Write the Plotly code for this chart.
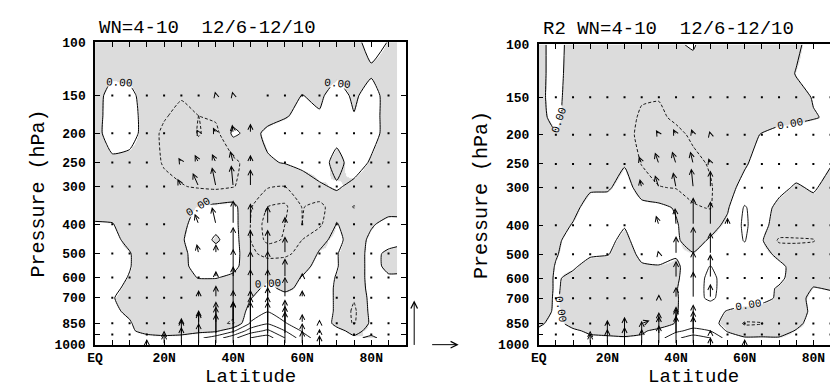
import numpy as np
import plotly.graph_objects as go

W, H = 838, 387

# ---------------- data ----------------
LAT_L = [0, 5, 10, 15, 20, 25, 30, 35, 40, 45, 50, 55, 60, 65, 70, 75, 80, 85, 87.5]
LAT_R = [0, 5, 10, 15, 20, 25, 30, 35, 40, 45, 50, 55, 60, 65, 70, 75, 80, 85]
LEV = [100, 125, 150, 175, 200, 250, 300, 350, 400, 450, 500, 550, 600, 650, 700, 775, 850, 900, 950]

# EP-flux divergence, panel 1 (rows follow LEV)
DIV_L = [
    [-0.3, -0.5, -0.5, -0.5, -0.5, -0.5, -0.5, -0.5, -0.5, -0.5, -0.5, -0.5, -0.5, -0.5, -0.5, -0.4, 0.5, -0.05, -0.4],
    [-0.5, -0.3, -0.4, -0.5, -0.5, -0.5, -0.5, -0.5, -0.5, -0.5, -0.5, -0.5, -0.5, -0.5, -0.3, -0.5, -0.2, -0.4, -0.5],
    [-0.5, 0.5, 0.3, -0.5, -0.6, -0.9, -0.6, -0.6, -0.5, -0.5, -0.5, -0.3, 0.02, -0.2, 0.5, -0.2, 0.5, -0.5, -0.5],
    [-0.5, 0.6, 0.5, -0.5, -0.9, -1.3, -1.0, -0.8, -0.4, -0.5, -0.3, -0.1, 0.3, 0.1, 0.6, 0.05, 0.5, -0.5, -0.5],
    [-0.5, 0.7, 0.5, -0.5, -1.2, -1.4, -0.95, -1.3, 0.2, -0.3, 0.2, 0.5, 0.6, 0.6, 0.3, 0.5, 0.3, -0.3, -0.5],
    [-0.5, -0.3, -0.4, -0.5, -1.1, -1.3, -1.4, -1.5, -1.3, -0.5, -0.1, 0.05, 0.4, 0.4, -0.3, 0.4, -0.1, -0.4, -0.5],
    [-0.5, -0.5, -0.5, -0.5, -0.7, -0.95, -1.1, -1.2, -1.05, -0.6, -0.9, -1.0, -0.8, -0.1, 0.1, -0.2, -0.4, -0.5, -0.5],
    [-0.5, -0.5, -0.5, -0.5, -0.5, -0.4, 0.1, 0.2, 0.3, -0.9, -2.0, -2.2, -0.95, -1.3, -0.4, -1.05, -0.4, -0.4, -0.4],
    [0.1, 0.05, -0.5, -0.5, -0.5, -0.3, 0.5, 0.3, 0.4, -1.0, -2.5, -2.0, -1.0, -1.2, 0.05, -0.5, -0.1, 0.3, 0.3],
    [0.3, 0.2, -0.2, -0.5, -0.5, -0.1, 0.5, -0.15, 0.5, -1.0, -2.3, -1.9, -1.0, -0.3, 0.3, -0.5, 0.2, 0.4, 0.3],
    [0.3, 0.1, 0.05, -0.5, -0.5, -0.3, 0.5, 0.4, 0.5, -0.8, -1.3, -1.2, -0.7, 0.1, 0.05, -0.5, 0.3, -0.2, -0.3],
    [0.4, 0.3, 0.05, -0.5, -0.5, -0.3, 0.4, 0.4, 0.3, -0.6, -0.5, -0.5, -0.3, 0.3, 0.05, -0.5, 0.3, -0.2, -0.2],
    [0.4, 0.3, -0.05, -0.5, -0.5, -0.4, 0.05, 0.05, -0.2, -0.5, -0.1, -0.4, 0.05, 0.4, -0.05, -0.5, 0.3, 0.1, 0.1],
    [0.3, 0.2, -0.2, -0.5, -0.5, -0.5, -0.5, -0.5, -0.5, -0.3, 0.2, -0.2, 0.2, 0.4, -0.1, -0.6, 0.3, 0.2, 0.2],
    [0.3, 0.05, -0.3, -0.5, -0.5, -0.5, -0.5, -0.5, -0.6, -0.05, 0.5, 0.3, 0.2, 0.4, -0.1, -0.9, 0.3, 0.2, 0.2],
    [0.2, 0.1, -0.1, -0.5, -0.5, -0.5, -0.5, -0.6, -0.8, 0.3, 0.95, 0.6, 0.3, 0.4, -0.1, -1.2, 0.3, 0.2, 0.2],
    [0.2, 0.1, 0.05, -0.3, -0.5, -0.5, -0.5, -0.8, -1.1, 1.1, 1.9, 1.05, 0.6, 0.5, -0.2, -1.1, 0.2, 0.3, 0.3],
    [0.2, 0.2, 0.1, -0.2, -0.4, -0.4, -0.3, -0.2, 0.8, 2.5, 3.2, 2.0, 0.9, 0.5, 0.2, -0.2, 0.2, 0.3, 0.3],
    [0.2, 0.2, 0.2, 0.2, 0.2, 0.3, 0.8, 1.5, 2.7, 4.0, 4.5, 3.0, 1.5, 0.5, 0.3, 0.1, -0.1, 0.2, 0.2],
]

# EP-flux divergence, panel 2 (R2)
DIV_R = [
    [-0.3, 0.4, -0.4, -0.5, -0.5, -0.5, -0.5, -0.5, -0.1, 0.1, -0.5, -0.5, -0.5, -0.5, -0.5, -0.2, 0.4, 0.4],
    [-0.3, 0.4, -0.5, -0.5, -0.5, -0.5, -0.5, -0.5, -0.5, -0.4, -0.5, -0.5, -0.5, -0.5, -0.5, 0.05, 0.4, 0.4],
    [-0.2, 0.3, -0.5, -0.5, -0.5, -0.5, -0.9, -0.95, -0.6, -0.5, -0.5, -0.5, -0.5, -0.5, -0.5, -0.3, 0.05, 0.3],
    [-0.2, 0.2, -0.5, -0.5, -0.5, -0.6, -1.15, -1.2, -0.8, -0.5, -0.5, -0.5, -0.5, -0.4, -0.3, -0.2, -0.05, 0.1],
    [-0.5, -0.05, -0.5, -0.5, -0.5, -0.6, -1.3, -1.4, -1.3, -0.8, -0.5, -0.5, -0.3, 0.05, 0.3, 0.4, 0.4, 0.3],
    [-0.5, -0.5, -0.5, -0.5, -0.5, -0.05, -1.05, -1.5, -1.5, -1.3, -0.9, -0.5, -0.1, 0.4, 0.4, 0.4, 0.3, 0.05],
    [-0.5, -0.5, -0.5, -0.1, -0.1, 0.3, -0.3, -0.95, -1.05, -1.3, -1.1, -0.3, 0.3, 0.4, 0.2, -0.1, 0.1, -0.3],
    [-0.5, -0.5, -0.2, 0.3, 0.4, 0.2, 0.2, 0.3, -0.1, -0.9, -1.05, -0.1, 1.1, 0.3, -0.2, -0.4, -0.3, -0.3],
    [-0.5, -0.3, 0.05, 0.4, 0.4, 0.05, 0.4, 0.4, 0.1, -0.6, -0.3, 0.2, 1.2, 0.2, -0.3, -0.5, -0.5, -0.4],
    [-0.5, -0.2, 0.4, 0.4, 0.2, -0.2, 0.4, 0.5, 0.1, -0.3, 0.1, 0.5, 1.05, 0.1, -1.15, -1.1, -1.05, -0.5],
    [-0.5, -0.05, 0.3, 0.1, 0.05, -0.4, 0.2, 0.3, 0.05, 0.05, 0.4, 0.5, 0.6, 0.3, -0.2, -0.6, -0.5, -0.5],
    [-0.5, 0.05, 0.1, -0.3, -0.5, -0.5, -0.1, -0.05, -0.1, 0.3, 1.05, 0.3, 0.5, 0.3, 0.2, -0.3, -0.5, -0.5],
    [-0.5, 0.1, -0.2, -0.5, -0.5, -0.5, -0.5, -0.5, -0.1, 0.4, 1.3, 0.5, 0.5, 0.4, 0.2, -0.4, -0.3, -0.3],
    [-0.5, 0.1, -0.3, -0.5, -0.5, -0.5, -0.5, -0.5, -0.05, 0.5, 1.3, 0.5, 0.4, 0.3, -0.1, -0.5, 0.05, -0.05],
    [-0.4, 0.1, -0.4, -0.5, -0.5, -0.5, -0.5, -0.5, -0.1, 0.6, 1.2, 0.5, 0.4, 0.2, -0.1, -0.4, 0.3, 0.2],
    [-0.3, 0.1, -0.3, -0.5, -0.5, -0.5, -0.5, -0.5, -0.05, 0.4, 0.3, -0.05, -0.3, -0.3, -0.3, -0.2, 0.1, 0.3],
    [-0.1, 0.2, -0.2, -0.4, -0.4, -0.4, -0.4, -0.4, 0.05, 0.5, 0.3, -0.3, -1.1, -1.05, -0.4, -0.2, 0.3, 0.3],
    [0.1, 0.3, 0.1, -0.1, -0.2, -0.2, -0.1, 0.2, 0.8, 1.3, 1.0, -0.1, -0.6, -0.5, -0.3, 0.05, 0.3, 0.3],
    [0.2, 0.3, 0.2, 0.1, 0.1, 0.05, 0.1, 0.6, 1.8, 2.5, 2.0, 0.6, 0.1, 0.1, 0.05, 0.2, 0.3, 0.3],
]

# EP-flux vectors (same units as the reference arrows REF_FY / REF_FZ)
VEC_LAT = [5, 10, 15, 20, 25, 30, 35, 40, 45, 50, 55, 60, 65, 70, 75, 80, 85]
VEC_LEV = [1000, 925, 850, 700, 600, 500, 400, 300, 250, 200, 150]
REF_FY = 28
REF_FZ = 46

FZ_L = [
    [0, 0, 6, 12, 28, 36, 40, 45, 45, 45, 35, 15, 10, 2, 0, 0, 0],
    [1, 1, 2, 4, 8, 12, 22, 35, 40, 40, 30, 12, 6, 1, 0, 0, 0],
    [1, 1, 1, 2, 4, 12, 23, 35, 35, 38, 25, 10, 4, 1, 0, 0, 0],
    [0, 0, 1, 1, 2, 8, 13, 33, 30, 30, 22, 8, 3, 1, 0, 0, 0],
    [0, 0, 0, 1, 1, 1, 7, 30, 28, 28, 20, 5, 2, 1, 0, 0, 0],
    [0, 0, 0, 1, 1, 10, 10, 28, 25, 25, 18, 3, 1, 0, 0, 0, 0],
    [0, 0, 0, 1, 3, 11, 18, 25, 22, 19, 8, 2, 0, 0, 0, 0, 0],
    [0, 0, 0, 1, 8, 14, 20, 22, 18, 3, 1, 0, 0, 0, 0, 0, 0],
    [0, 0, 0, 2, 5, 8, 9, 12, 8, 3, 1, 0, 0, 0, 0, 0, 0],
    [0, 0, 0, 0, 3, 4, 6, 9, 10, 3, 1, 0, 0, 0, 0, 0, 0],
    [0, 0, 0, 0, 0, 1, 4, 4, 3, 1, 0, 0, 0, 0, 0, 0, 0],
]
FY_L = [
    [0] * 17,
    [0] * 17,
    [0] * 17,
    [0] * 17,
    [0] * 17,
    [0, 0, 0, 0, 0, -2, 0, 0, 0, 0, 0, 0, 0, 0, 0, 0, 0],
    [0, 0, 0, 0, -1, -4, -4, 0, 0, 0, 0, 0, 0, 0, 0, 0, 0],
    [0, 0, 0, 0, -4, -6, -4, -2, 0, 0, 0, 0, 0, 0, 0, 0, 0],
    [0, 0, 0, -2, -3, -4, -4, -3, 0, 0, 0, 0, 0, 0, 0, 0, 0],
    [0, 0, 0, 0, -2, -2, -3, -1, 0, 0, 0, 0, 0, 0, 0, 0, 0],
    [0, 0, 0, 0, 0, 0, -1, -1, 0, 0, 0, 0, 0, 0, 0, 0, 0],
]
FZ_R = [
    [0, 2, 12, 26, 29, 25, 34, 38, 30, 8, 3, 6, 1, 0, 0, 0, 0],
    [0, 1, 4, 6, 8, 6, 10, 20, 25, 5, 1, 1, 0, 0, 0, 0, 0],
    [0, 1, 1, 2, 3, 3, 8, 18, 20, 3, 0, 0, 0, 0, 0, 0, 0],
    [0, 0, 1, 1, 1, 2, 4, 12, 28, 15, 2, 0, 0, 0, 0, 0, 0],
    [0, 0, 1, 1, 1, 1, 3, 18, 28, 25, 1, 0, 0, 0, 0, 0, 0],
    [0, 0, 0, 0, 1, 1, 4, 19, 29, 23, 2, 1, 0, 0, 0, 0, 0],
    [0, 0, 0, 0, 1, 3, 10, 18, 29, 25, 8, 1, 0, 0, 0, 0, 0],
    [0, 0, 0, 0, 1, 9, 13, 16, 20, 18, 3, 1, 0, 0, 0, 0, 0],
    [0, 0, 0, 0, 1, 8, 12, 13, 13, 6, 2, 0, 0, 0, 0, 0, 0],
    [0, 0, 0, 1, 2, 3, 5, 6, 6, 4, 2, 1, 0, 0, 0, 0, 0],
    [0, 0, 0, 0, 0, 1, 1, 1, 1, 0, 0, 0, 0, 0, 0, 0, 0],
]
FY_R = [
    [0] * 17,
    [0] * 17,
    [0, 0, 0, 0, 0, 8, 0, 0, 0, 0, 0, 0, 0, 0, 0, 0, 0],
    [0] * 17,
    [0] * 17,
    [0, 0, 0, 0, 0, 0, -1, 0, 0, 0, 0, 0, 0, 0, 0, 0, 0],
    [0, 0, 0, 0, 0, -2, -3, -1, 0, 0, 0, 0, 0, 0, 0, 0, 0],
    [0, 0, 0, 0, 0, -2, -4, -3, -2, 0, 0, 0, 0, 0, 0, 0, 0],
    [0, 0, 0, 0, 0, -3, -4, -4, -3, -2, 0, 0, 0, 0, 0, 0, 0],
    [0, 0, 0, -1, -1, -2, -3, -3, -2, -1, 0, 0, 0, 0, 0, 0, 0],
    [0] * 17,
]

X_TICKS = list(range(0, 95, 5))
X_LABELS = {0: "EQ", 20: "20N", 40: "40N", 60: "60N", 80: "80N"}
Y_TICKS = [100, 150, 200, 250, 300, 400, 500, 600, 700, 850, 925, 1000]
Y_LABELS = ["100", "150", "200", "250", "300", "400", "500", "600", "700", "850", "", "1000"]

TITLE_L = "WN=4-10\u00a0\u00a012/6-12/10"
TITLE_R = "R2\u00a0WN=4-10\u00a0\u00a012/6-12/10"

# ---------------- layout geometry (pixels) ----------------
XD_L = [80 / W, 394.5 / W]
XD_R = [529 / W, 1.0]
XR_L = [0, 90]
XR_R = [0, 90 * (W - 529) / 312.75]
YD_L = [(H - 344) / H, (H - 29.3) / H]
YD_R = [(H - 344) / H, (H - 31.7) / H]

FONT = "Liberation Mono"
GRAY = "#dcdcdc"
VEC_PX_PER_UNIT = 1.0
SHADE = [[0, GRAY], [0.5, GRAY], [0.5, "#ffffff"], [1, "#ffffff"]]

fig = go.Figure()


def add_panel(lat, div, xa, ya):
    # shaded negative region (heatmap coloring) + labelled zero line
    fig.add_trace(go.Contour(
        x=lat, y=LEV, z=div, xaxis=xa, yaxis=ya,
        contours=dict(coloring="heatmap", start=0, end=0.5, size=1, showlabels=True,
                      labelformat=".2f",
                      labelfont=dict(family=FONT, size=11, color="black")),
        colorscale=SHADE, zmin=-1, zmax=1,
        line=dict(color="black", width=1, smoothing=0.5),
        showscale=False, hoverinfo="skip"))
    # negative contours (dashed)
    fig.add_trace(go.Contour(
        x=lat, y=LEV, z=div, xaxis=xa, yaxis=ya,
        contours=dict(coloring="none", start=-3, end=-1, size=1),
        line=dict(color="black", width=0.9, dash="3px,2px", smoothing=0.5),
        showscale=False, hoverinfo="skip"))
    # positive contours (solid)
    fig.add_trace(go.Contour(
        x=lat, y=LEV, z=div, xaxis=xa, yaxis=ya,
        contours=dict(coloring="none", start=1, end=6, size=1),
        line=dict(color="black", width=0.9, smoothing=0.5),
        showscale=False, hoverinfo="skip"))


def add_vectors(fy, fz, xa, ya, xd, xr, yd):
    pxdeg = (xd[1] - xd[0]) * W / (xr[1] - xr[0])
    pxdec = (yd[1] - yd[0]) * H / 1.0
    dx, dy = [], []
    xref = "x" if xa == "x" else "x2"
    yref = "y" if ya == "y" else "y2"
    for i, p in enumerate(VEC_LEV):
        for j, la in enumerate(VEC_LAT):
            u = fy[i][j] * VEC_PX_PER_UNIT
            v = fz[i][j] * VEC_PX_PER_UNIT
            if np.hypot(u, v) < 2.5:
                if p < 1000:
                    dx.append(la)
                    dy.append(p)
                continue
            y0 = np.log10(p)
            fig.add_annotation(
                x=la + u / pxdeg, y=y0 - v / pxdec, ax=la, ay=y0,
                xref=xref, yref=yref, axref=xref, ayref=yref,
                text="", showarrow=True, arrowhead=5, arrowsize=1.0,
                arrowwidth=1, arrowcolor="black")
    fig.add_trace(go.Scatter(
        x=dx, y=dy, xaxis=xa, yaxis=ya, mode="markers",
        marker=dict(symbol="square", size=2, color="black"),
        hoverinfo="skip", showlegend=False))


add_panel(LAT_L, DIV_L, "x", "y")
add_panel(LAT_R, DIV_R, "x2", "y2")
add_vectors(FY_L, FZ_L, "x", "y", XD_L, XR_L, YD_L)
add_vectors(FY_R, FZ_R, "x2", "y2", XD_R, XR_R, YD_R)

xt = [X_LABELS.get(v, "") for v in X_TICKS]
axis_common = dict(showgrid=False, zeroline=False, showline=True, linecolor="black",
                   linewidth=1.5, mirror="allticks", ticks="inside", ticklen=5,
                   tickwidth=1, tickcolor="black",
                   tickfont=dict(family=FONT, size=13, color="black", weight="bold"))

fig.update_layout(
    width=W, height=H, margin=dict(l=0, r=0, t=0, b=0),
    paper_bgcolor="white", plot_bgcolor="white", showlegend=False,
    font=dict(family=FONT, color="black"),
    xaxis=dict(domain=XD_L, range=XR_L, tickvals=X_TICKS, ticktext=xt, anchor="y",
               ticklabelstandoff=0, **axis_common),
    yaxis=dict(domain=YD_L, type="log", range=[3, 2], tickvals=Y_TICKS, ticktext=Y_LABELS,
               anchor="x", ticklabelstandoff=5, **axis_common),
    xaxis2=dict(domain=XD_R, range=XR_R, tickvals=X_TICKS, ticktext=xt, anchor="y2",
                ticklabelstandoff=0, **axis_common),
    yaxis2=dict(domain=YD_R, type="log", range=[3, 2], tickvals=Y_TICKS, ticktext=Y_LABELS,
                anchor="x2", ticklabelstandoff=5, **axis_common),
)

texts = [
    dict(text=TITLE_L, x=82 / W, y=(H - 15) / H, xanchor="left", yanchor="middle", size=19, angle=0),
    dict(text=TITLE_R, x=531 / W, y=(H - 16) / H, xanchor="left", yanchor="middle", size=19, angle=0),
    dict(text="Latitude", x=237 / W, y=(H - 378) / H, xanchor="center", yanchor="middle", size=19, angle=0),
    dict(text="Latitude", x=685.5 / W, y=(H - 378) / H, xanchor="center", yanchor="middle", size=19, angle=0),
    dict(text="Pressure (hPa)", x=23 / W, y=(H - 187) / H, xanchor="center", yanchor="middle", size=20, angle=-90),
    dict(text="Pressure (hPa)", x=471 / W, y=(H - 188) / H, xanchor="center", yanchor="middle", size=20, angle=-90),
]
for t in texts:
    fig.add_annotation(text=t["text"], x=t["x"], y=t["y"], xref="paper", yref="paper",
                       xanchor=t["xanchor"], yanchor=t["yanchor"], showarrow=False,
                       textangle=t["angle"], font=dict(family=FONT, size=t["size"], color="black"))

# reference vectors
fig.add_annotation(x=403 / W, y=(H - 344 + REF_FZ * VEC_PX_PER_UNIT) / H, xref="paper", yref="paper",
                   ax=0, ay=REF_FZ * VEC_PX_PER_UNIT, text="", showarrow=True, arrowhead=5,
                   arrowsize=1.3, arrowwidth=1, arrowcolor="black")
fig.add_annotation(x=(420 + REF_FY * VEC_PX_PER_UNIT) / W, y=(H - 344) / H, xref="paper", yref="paper",
                   ax=-REF_FY * VEC_PX_PER_UNIT, ay=0, text="", showarrow=True, arrowhead=5,
                   arrowsize=1.3, arrowwidth=1, arrowcolor="black")

fig.write_html("out.html")
